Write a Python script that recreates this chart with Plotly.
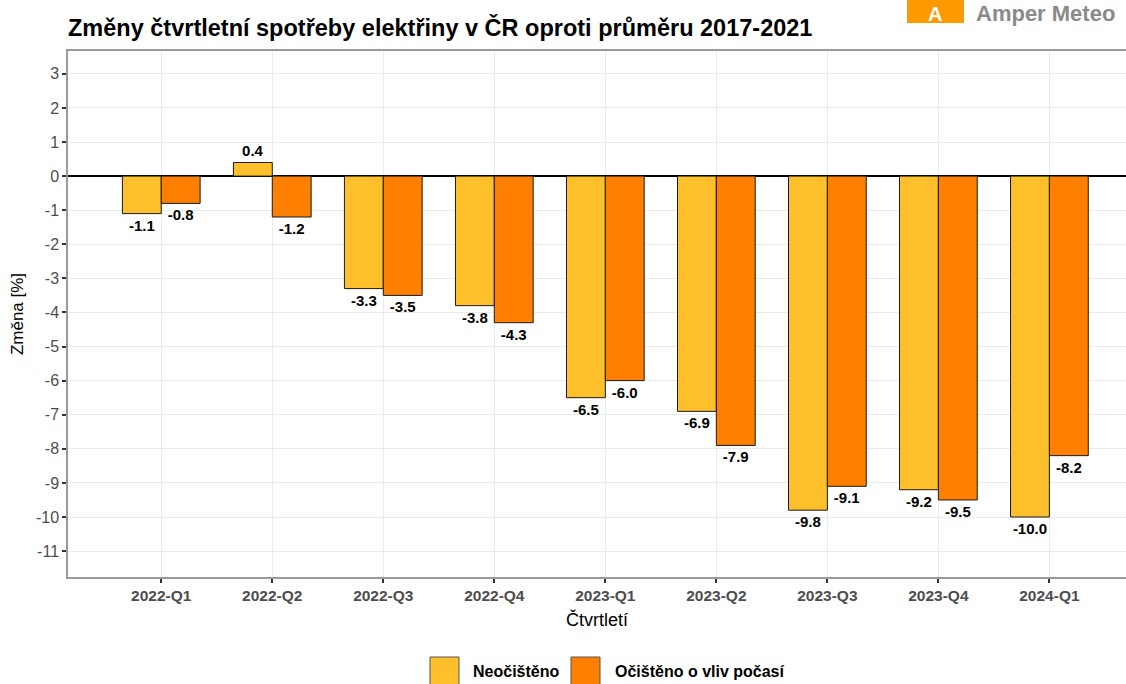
import plotly.graph_objects as go

quarters = ["2022-Q1", "2022-Q2", "2022-Q3", "2022-Q4", "2023-Q1",
            "2023-Q2", "2023-Q3", "2023-Q4", "2024-Q1"]
raw = [-1.1, 0.4, -3.3, -3.8, -6.5, -6.9, -9.8, -9.2, -10.0]
adjusted = [-0.8, -1.2, -3.5, -4.3, -6.0, -7.9, -9.1, -9.5, -8.2]
series_names = ["Neočištěno", "Očištěno o vliv počasí"]
colors = ["#FEC02A", "#FF8000"]
yticks = list(range(-11, 4))

FONT = "Liberation Sans, Arial, sans-serif"
W, H = 1126, 684
L, R, T, B = 68, 0, 51, 107
pw, ph = W - L - R, H - T - B

def px(x):
    return (x - L) / pw

def py(y):
    return (H - B - y) / ph

fig = go.Figure()
for name, vals, col in zip(series_names, [raw, adjusted], colors):
    fig.add_trace(go.Bar(
        x=quarters, y=vals, name=name,
        marker=dict(color=col, line=dict(color="#1a1a1a", width=1)),
        text=[f"{v:.1f}" for v in vals], textposition="outside",
        textfont=dict(family=FONT, size=15, color="black", weight="bold"),
        cliponaxis=False, showlegend=False,
    ))

shapes = []
annotations = []

# legend (drawn manually to match large key boxes)
leg = [(430, 471, series_names[0], colors[0]), (571, 613, series_names[1], colors[1])]
for bx, tx, name, col in leg:
    shapes.append(dict(type="rect", xref="paper", yref="paper",
                       x0=px(bx), x1=px(bx + 29), y0=py(657), y1=py(688),
                       fillcolor=col, line=dict(color="#555555", width=1)))
    annotations.append(dict(xref="paper", yref="paper", x=px(tx), y=py(671),
                            xanchor="left", yanchor="middle", showarrow=False,
                            text=f"<b>{name}</b>",
                            font=dict(family=FONT, size=16, color="black")))

# logo (top-right)
shapes.append(dict(type="rect", xref="paper", yref="paper",
                   x0=px(907), x1=px(964), y0=py(23), y1=py(-20),
                   fillcolor="#FF9900", line=dict(width=0), layer="above"))
annotations.append(dict(xref="paper", yref="paper", x=px(935), y=py(1),
                        xanchor="center", yanchor="top", showarrow=False,
                        text="<b>A</b>", font=dict(family=FONT, size=20, color="white")))
annotations.append(dict(xref="paper", yref="paper", x=px(974), y=py(-1),
                        xanchor="left", yanchor="top", showarrow=False,
                        text="<b>Amper Meteo</b>",
                        font=dict(family=FONT, size=22, color="#8a8a8a")))

fig.update_layout(
    width=W, height=H,
    margin=dict(l=L, r=R, t=T, b=B, autoexpand=False),
    paper_bgcolor="white", plot_bgcolor="white",
    barmode="group", bargap=0.3, bargroupgap=0,
    font=dict(family=FONT, color="#4D4D4D"),
    title=dict(text="<b>Změny čtvrtletní spotřeby elektřiny v ČR oproti průměru 2017-2021</b>",
               x=px(68), xref="paper", xanchor="left", y=1 - 28 / H, yanchor="middle",
               font=dict(family=FONT, size=23.5, color="black")),
    xaxis=dict(
        range=[-0.84, 8.69], showgrid=True, gridcolor="#EBEBEB", gridwidth=1,
        showline=True, linecolor="#9a9a9a", linewidth=1.5, mirror=True,
        ticks="outside", ticklen=4, tickwidth=1.5, tickcolor="#333333",
        tickfont=dict(family=FONT, size=15.5, color="#4D4D4D", weight="bold"),
        title=dict(text="Čtvrtletí", font=dict(family=FONT, size=18, color="black"), standoff=10),
    ),
    yaxis=dict(
        range=[-11.76, 3.67], tickvals=yticks, ticktext=[str(v) for v in yticks],
        showgrid=True, gridcolor="#EBEBEB", gridwidth=1,
        zeroline=True, zerolinecolor="black", zerolinewidth=1.5,
        showline=True, linecolor="#9a9a9a", linewidth=1.5,
        ticks="outside", ticklen=4, tickwidth=1.5, tickcolor="#333333",
        tickfont=dict(family=FONT, size=16, color="#4D4D4D"),
        title=dict(text="Změna [%]", font=dict(family=FONT, size=17, color="black"), standoff=8),
    ),
    shapes=shapes, annotations=annotations,
)

fig.write_html("out.html", config={"displayModeBar": False},
               post_script="document.body.style.margin='0';document.body.style.overflow='hidden';")
